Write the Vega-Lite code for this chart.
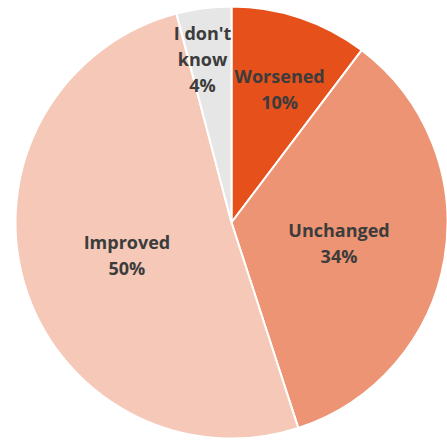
{
  "$schema": "https://vega.github.io/schema/vega-lite/v6.json",
  "autosize": {"type": "fit", "contains": "padding"},
  "width": 447,
  "height": 442,
  "padding": {"left": 16, "top": 5, "right": 0, "bottom": 2},
  "background": "white",
  "view": {"stroke": null},
  "data": {
    "values": [
      {"idx": 1, "cat": "Worsened", "value": 10.3, "label": "Worsened\n10%"},
      {"idx": 2, "cat": "Unchanged", "value": 34.7, "label": "Unchanged\n34%"},
      {"idx": 3, "cat": "Improved", "value": 50.9, "label": "Improved\n50%"},
      {"idx": 4, "cat": "I don't know", "value": 4.1, "label": "I don't\nknow\n4%"}
    ]
  },
  "encoding": {
    "theta": {"field": "value", "type": "quantitative", "stack": true},
    "order": {"field": "idx", "type": "quantitative"}
  },
  "layer": [
    {
      "mark": {"type": "arc", "outerRadius": 216, "stroke": "white", "strokeWidth": 2},
      "encoding": {
        "color": {
          "field": "cat",
          "type": "nominal",
          "scale": {
            "domain": ["Worsened", "Unchanged", "Improved", "I don't know"],
            "range": ["#E5501B", "#EC9473", "#F5C8B7", "#E6E6E6"]
          },
          "legend": null
        }
      }
    },
    {
      "mark": {"type": "text", "radius": 109, "dy": -9, "lineBreak": "\n", "font": "Open Sans", "fontWeight": "bold", "fontSize": 18, "fill": "#3C3C3C", "lineHeight": 26},
      "encoding": {
        "text": {"condition": {"test": "datum.cat == 'Unchanged' || datum.cat == 'Improved'", "field": "label"}, "value": ""}
      }
    },
    {
      "mark": {"type": "text", "radius": 142, "dy": -10, "dx": 3, "lineBreak": "\n", "font": "Open Sans", "fontWeight": "bold", "fontSize": 18, "fill": "#3C3C3C", "lineHeight": 26},
      "encoding": {
        "text": {"condition": {"test": "datum.cat == 'Worsened'", "field": "label"}, "value": ""}
      }
    },
    {
      "mark": {"type": "text", "radius": 163, "dy": -26, "dx": -8, "lineBreak": "\n", "font": "Open Sans", "fontWeight": "bold", "fontSize": 18, "fill": "#3C3C3C", "lineHeight": 26},
      "encoding": {
        "text": {"condition": {"test": "datum.cat == \"I don't know\"", "field": "label"}, "value": ""}
      }
    }
  ]
}
